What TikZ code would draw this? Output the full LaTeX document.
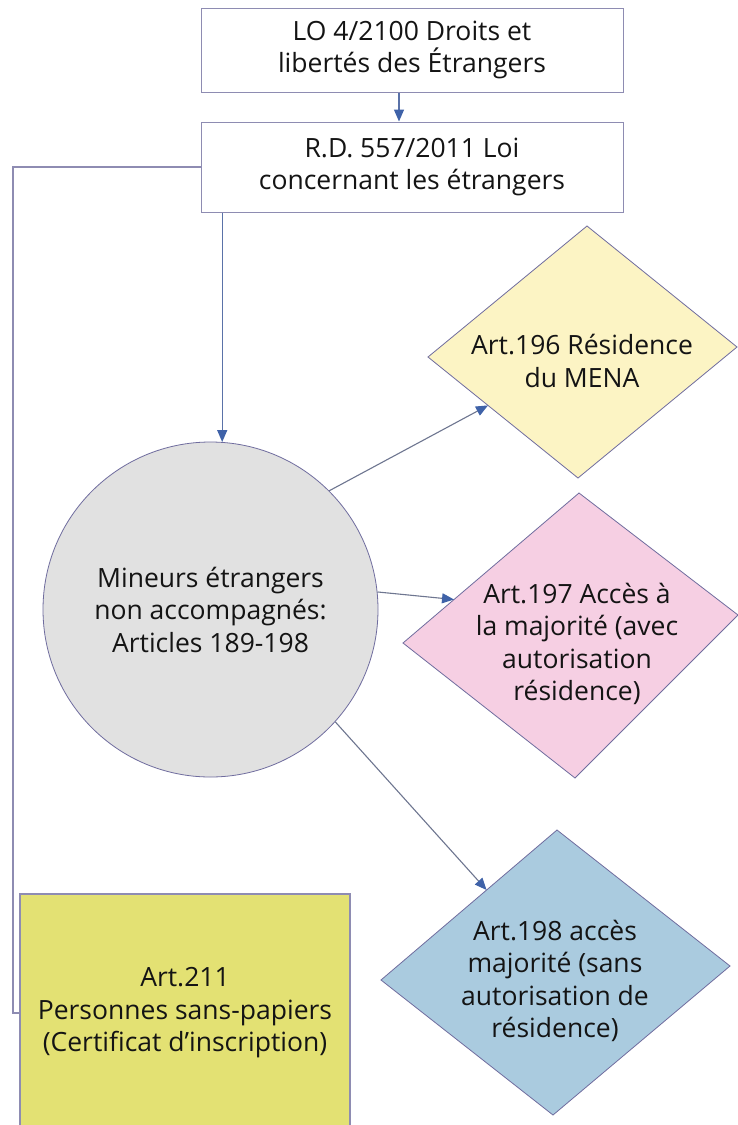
\documentclass[tikz,border=0pt]{standalone}
\usepackage{fontspec}
\setmainfont{Open Sans}
\usetikzlibrary{arrows.meta,calc}

\definecolor{boxline}{HTML}{8E8CB2}
\definecolor{flowline}{HTML}{5A72A8}
\definecolor{thinline}{HTML}{6E7690}
\definecolor{headblue}{HTML}{3F62A8}
\definecolor{circfill}{HTML}{E1E1E1}
\definecolor{circline}{HTML}{6F6C9E}
\definecolor{mena}{HTML}{FCF4C4}
\definecolor{avec}{HTML}{F6CFE3}
\definecolor{sans}{HTML}{AACBDF}
\definecolor{sanspap}{HTML}{E3E173}

\tikzset{
  lbl/.style={align=center, font=\fontsize{26.5}{32.5}\selectfont, text=black!92},
  lawbox/.style={draw=boxline, line width=1pt, fill=white, rectangle,
                 minimum width=422pt, inner sep=0pt},
  shapeline/.style={draw=circline, line width=0.8pt},
  arr/.style={draw=flowline, line width=1.3pt,
              -{Triangle[length=12pt,width=10pt,color=headblue,fill=headblue]}},
  thinarr/.style={draw=thinline, line width=1.1pt,
              -{Triangle[length=12pt,width=10pt,color=headblue,fill=headblue]}},
  link/.style={draw=boxline, line width=1.3pt},
}

\begin{document}
\begin{tikzpicture}[x=1pt,y=-1pt]
  \clip (0,0) rectangle (738,1125);
  \fill[white] (0,0) rectangle (738,1125);

  % the two legal texts at the top
  \node[lawbox, minimum height=84pt, lbl] (lo) at (412,50)
    {LO 4/2100 Droits et\\libertés des Étrangers};
  \node[lawbox, minimum height=90pt, lbl] (rd) at (412,167)
    {R.D. 557/2011 Loi\\concernant les étrangers};

  % central circle
  \node[circle, shapeline, fill=circfill, minimum size=335pt, inner sep=0pt, lbl]
    (mena) at (210.5,609.5)
    {Mineurs étrangers\\non accompagnés:\\Articles 189-198};

  % Art.196 diamond
  \coordinate (a196t) at (587,226);
  \coordinate (a196r) at (737,347);
  \coordinate (a196b) at (578,478);
  \coordinate (a196l) at (428,357);
  \filldraw[shapeline, fill=mena] (a196t) -- (a196r) -- (a196b) -- (a196l) -- cycle;
  \node[lbl] (t196) at (582,361) {Art.196 Résidence\\du MENA};

  % Art.197 diamond
  \coordinate (a197t) at (579,493);
  \coordinate (a197r) at (738,615);
  \coordinate (a197b) at (575,778);
  \coordinate (a197l) at (403,643);
  \filldraw[shapeline, fill=avec] (a197t) -- (a197r) -- (a197b) -- (a197l) -- cycle;
  \node[lbl] (t197) at (577,644)
    {Art.197 Accès à\\la majorité (avec\\autorisation\\résidence)};

  % Art.198 diamond
  \coordinate (a198t) at (557,830);
  \coordinate (a198r) at (730,966);
  \coordinate (a198b) at (553,1115);
  \coordinate (a198l) at (381,980);
  \filldraw[shapeline, fill=sans] (a198t) -- (a198r) -- (a198b) -- (a198l) -- cycle;
  \node[lbl] (t198) at (555,981)
    {Art.198 accès\\majorité (sans\\autorisation de\\résidence)};

  % Art.211 box, running off the bottom edge
  \node[rectangle, draw=boxline, line width=1.3pt, fill=sanspap,
        minimum width=330pt, minimum height=238pt, inner sep=0pt, lbl]
    (a211) at (185,1013)
    {Art.211\\Personnes sans-papiers\\(Certificat d’inscription)};

  % connectors
  \draw[arr] ([xshift=-13pt]lo.south) -- ([xshift=-13pt]rd.north);
  \draw[arr] (rd.south -| mena.86) -- (mena.86);

  \coordinate (side) at (13,167);
  \draw[link] (rd.west) -- (side) |- (a211.west);

  \coordinate (e196) at ($(a196l)!0.40!(a196b)$);
  \coordinate (e197) at ($(a197l)!0.29!(a197t)$);
  \coordinate (e198) at ($(a198l)!0.60!(a198t)$);
  \draw[thinarr] (mena.45) -- (e196);
  \draw[thinarr] (mena.6.5) -- (e197);
  \draw[thinarr] (mena.-42) -- (e198);
\end{tikzpicture}
\end{document}
